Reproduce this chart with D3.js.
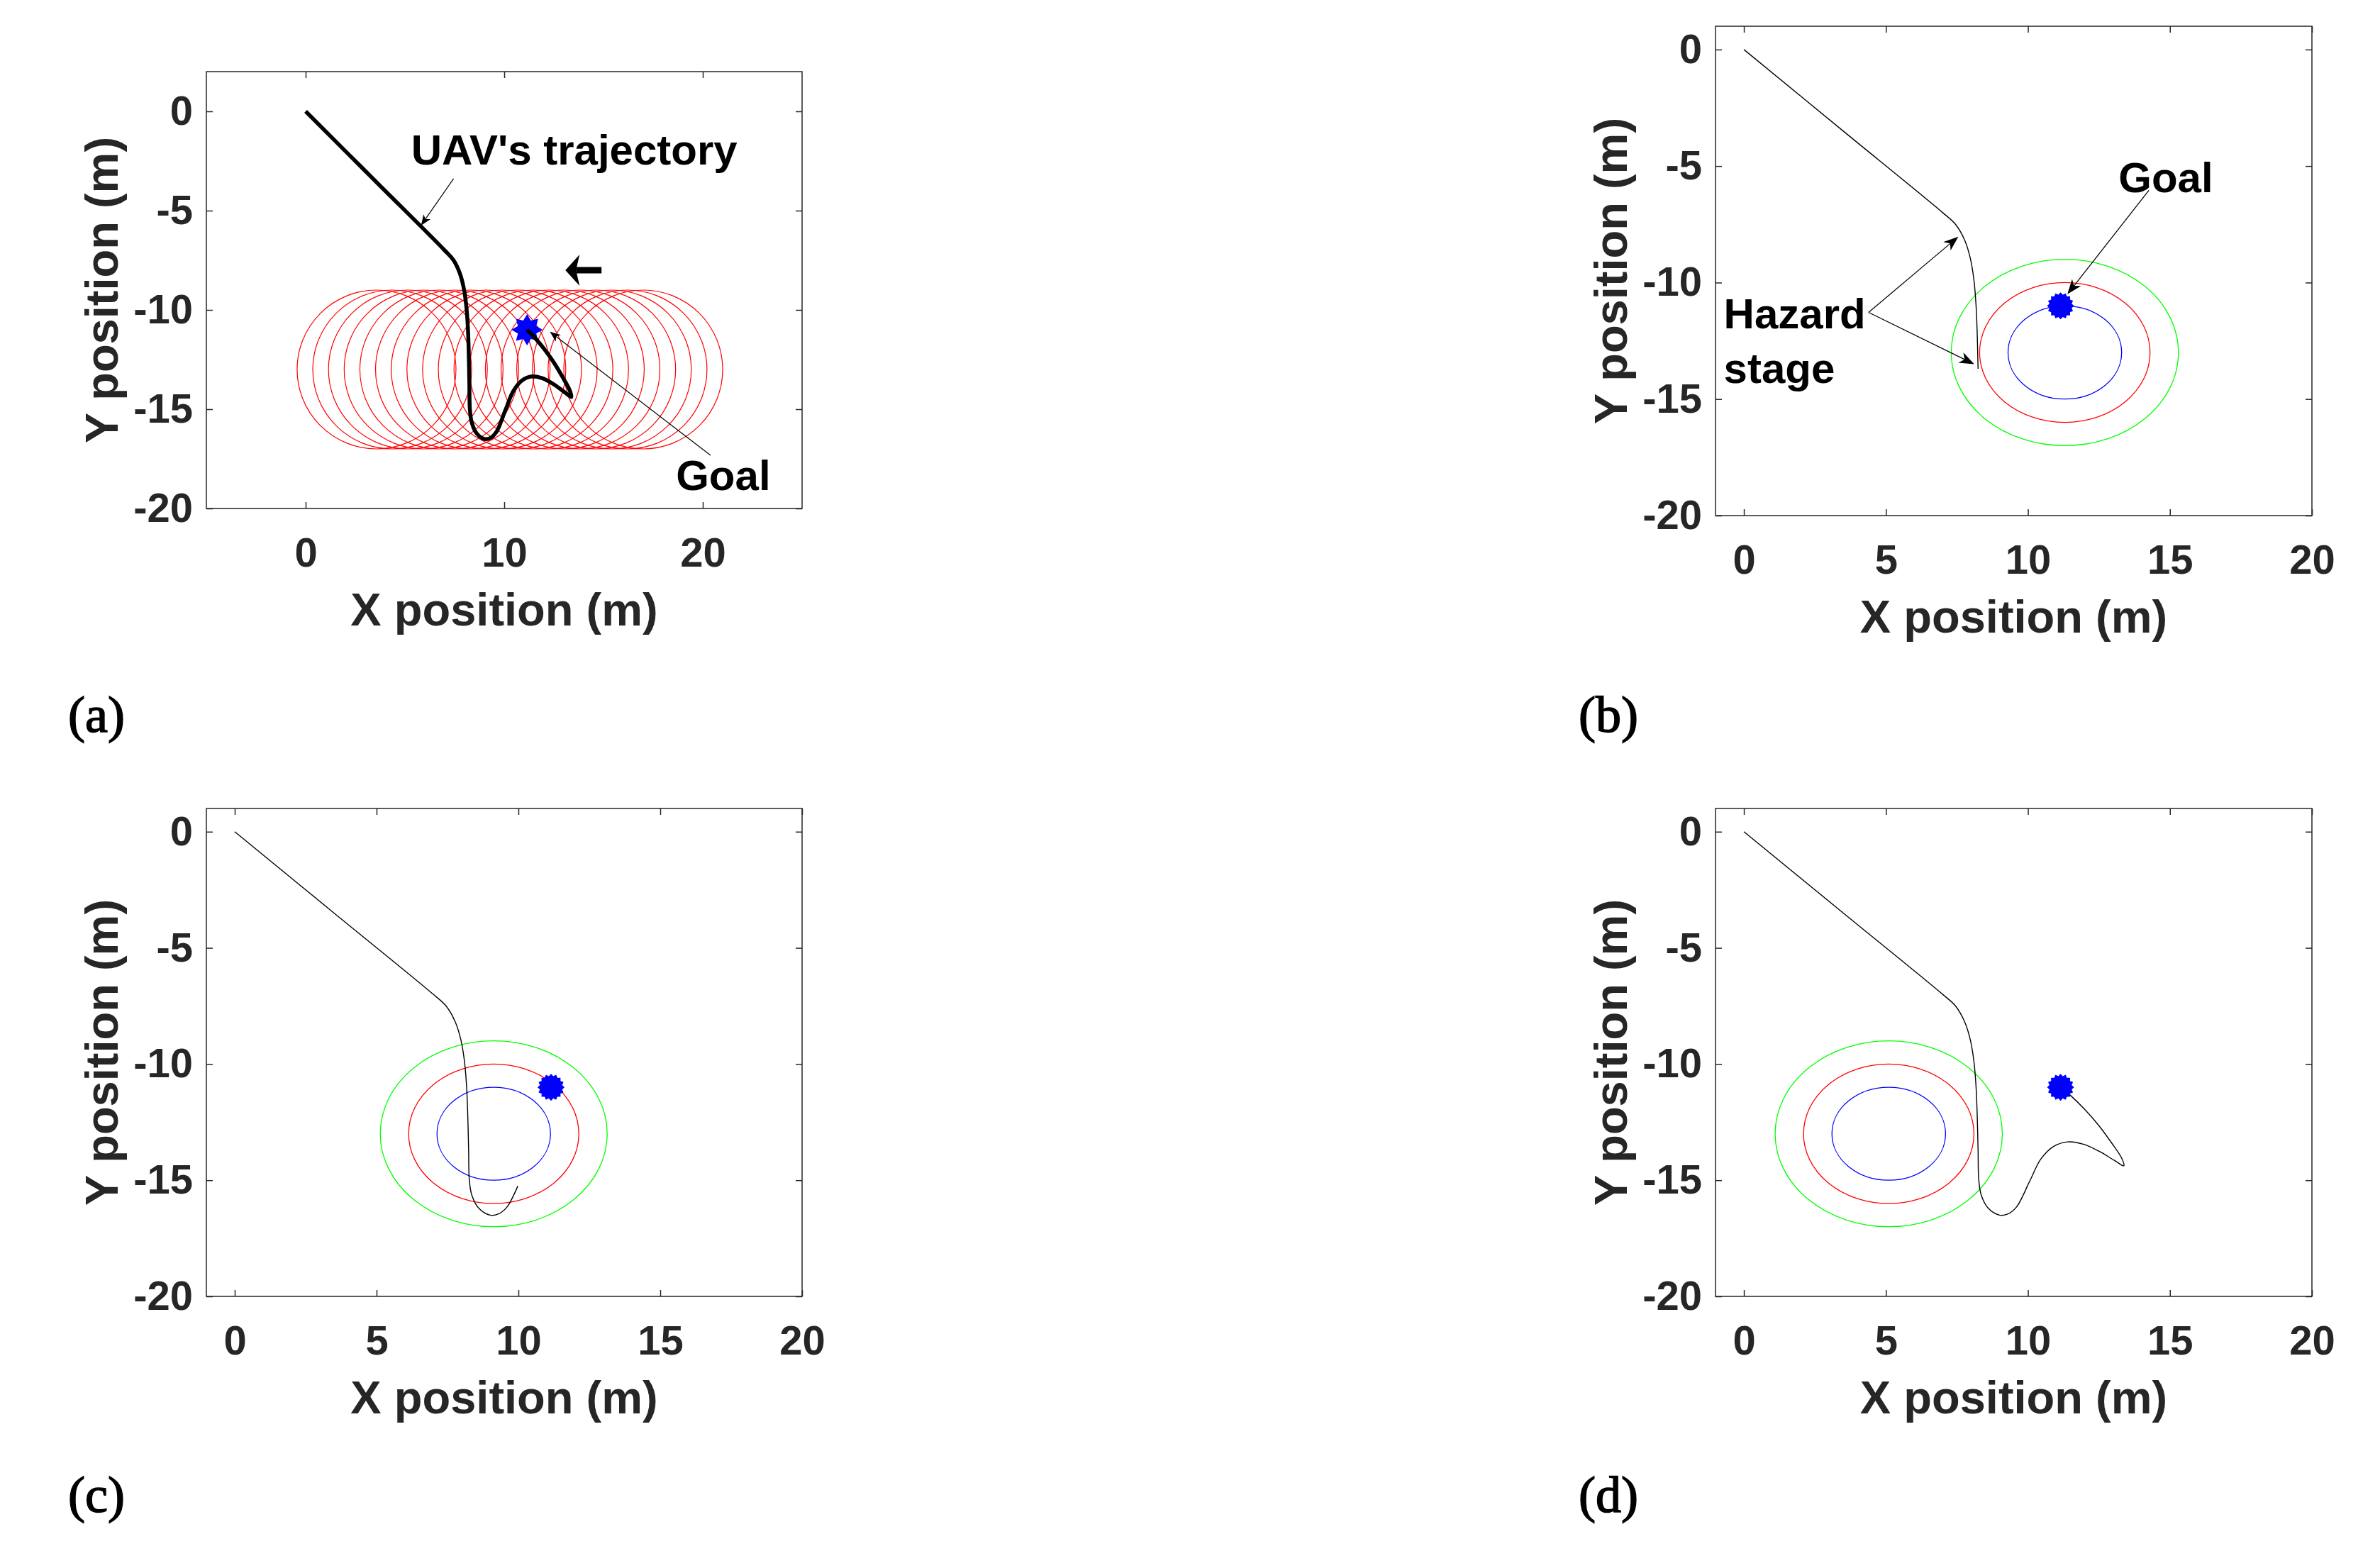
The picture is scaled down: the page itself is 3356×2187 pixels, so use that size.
<!DOCTYPE html>
<html>
<head>
<meta charset="utf-8">
<script src="https://cdn.jsdelivr.net/npm/d3@7"></script>
<style>
  body { margin: 0; background: #fff; }
  svg text { font-family: "Liberation Sans", Arial, sans-serif; font-weight: bold; }
  svg text.sub { font-family: "Liberation Serif", "Times New Roman", serif; font-weight: normal; }
</style>
</head>
<body>
<svg id="fig"></svg>
<script>
// UAV trajectory (m) (a) and (d)
const trajX = [0, 3.5, 7.0, 7.45, 7.78, 7.98, 8.1, 8.17, 8.21, 8.245, 8.27, 8.36, 8.6, 9.0, 9.3, 9.6, 9.85, 9.98,
               10.1, 10.45, 10.9, 11.4, 11.95, 12.5, 13.05, 13.38, 13.3, 12.95, 12.5, 12.0, 11.5, 11.15];
const trajY = [0, -3.5, -7.0, -7.5, -8.2, -9.0, -9.9, -10.9, -12.0, -13.7, -15.0, -15.65, -16.2, -16.5, -16.45, -16.15, -15.6, -15.25,
               -14.95, -14.1, -13.55, -13.35, -13.45, -13.75, -14.15, -14.38, -14.05, -13.4, -12.65, -11.95, -11.35, -11.0];
// number of trajectory samples drawn in each panel
const shownSteps = { a: trajX.length, b: 10, c: 18, d: trajX.length };

const goal = [11.15, -11];
const obstacleY = -13;
// (a): successive obstacle positions while it moves left
const sweepX = [17.00, 16.21, 15.42, 14.63, 13.84, 13.05, 12.26, 11.47, 10.68, 9.89, 9.10, 8.31, 7.52, 6.73, 5.94, 5.15, 4.36, 3.57];
const sweepRadius = 4;
// (b)-(d): obstacle position in each snapshot
const frameX = { b: 11.3, c: 9.13, d: 5.1 };
const zoneRadii = [2, 3, 4];
const zoneColors = ['#0000ff', '#ff0000', '#00ff00'];

const xTicksA = [0, 10, 20];
const xTicks = [0, 5, 10, 15, 20];
const yTicks = [0, -5, -10, -15, -20];

const W = 3356, H = 2187;
const ink = '#262626';

const svg = d3.select('#fig').attr('width', W).attr('height', H);
svg.append('rect').attr('width', W).attr('height', H).attr('fill', '#fff');

const panels = [
  { id: 'a', box: [291, 1131, 101, 717], xd: [-5, 25], yd: [-20, 2], xt: xTicksA, sub: [96, 1032] },
  { id: 'b', box: [2419, 3260, 37, 727], xd: [-1, 20], yd: [-20, 1], xt: xTicks, sub: [2226, 1032] },
  { id: 'c', box: [291, 1131, 1140, 1828], xd: [-1, 20], yd: [-20, 1], xt: xTicks, sub: [96, 2132] },
  { id: 'd', box: [2419, 3260, 1140, 1828], xd: [-1, 20], yd: [-20, 1], xt: xTicks, sub: [2226, 2132] }
];

function starPath(n, rOut, rIn, rot) {
  const pts = d3.range(2 * n).map(i => {
    const a = rot + i * Math.PI / n;
    const r = i % 2 ? rIn : rOut;
    return [r * Math.cos(a), r * Math.sin(a)];
  });
  return 'M' + pts.map(p => p.join(',')).join('L') + 'Z';
}

function arrow(g, x1, y1, x2, y2, opt) {
  const dx = x2 - x1, dy = y2 - y1, L = Math.hypot(dx, dy);
  const ux = dx / L, uy = dy / L, nx = -uy, ny = ux;
  const bx = x2 - ux * opt.len, by = y2 - uy * opt.len;
  const kx = x2 - ux * (opt.len - opt.notch), ky = y2 - uy * (opt.len - opt.notch);
  g.append('line')
    .attr('x1', x1).attr('y1', y1).attr('x2', kx).attr('y2', ky)
    .attr('stroke', '#000').attr('stroke-width', opt.lw);
  g.append('path')
    .attr('d', `M${x2},${y2}L${bx + nx * opt.hw},${by + ny * opt.hw}L${kx},${ky}L${bx - nx * opt.hw},${by - ny * opt.hw}Z`)
    .attr('fill', '#000');
}

// plain hyphen for negatives, as in the figure
const fmt = d => String(d);

panels.forEach(p => {
  const [L, R, T, B] = p.box;
  const x = d3.scaleLinear().domain(p.xd).range([L, R]);
  const y = d3.scaleLinear().domain(p.yd).range([B, T]);
  const g = svg.append('g');

  g.append('clipPath').attr('id', 'clip-' + p.id)
    .append('rect').attr('x', L).attr('y', T).attr('width', R - L).attr('height', B - T);
  const plot = g.append('g').attr('clip-path', `url(#clip-${p.id})`);

  const line = d3.line().x(i => x(trajX[i])).y(i => y(trajY[i])).curve(d3.curveCatmullRom.alpha(0.5));
  const idx = d3.range(shownSteps[p.id]);

  if (p.id === 'a') {
    sweepX.forEach(cx => {
      plot.append('ellipse')
        .attr('cx', x(cx)).attr('cy', y(obstacleY))
        .attr('rx', x(cx + sweepRadius) - x(cx)).attr('ry', y(obstacleY) - y(obstacleY + sweepRadius))
        .attr('fill', 'none').attr('stroke', '#ff0000').attr('stroke-width', 1.2);
    });
    plot.append('path').attr('d', starPath(8, 22, 14, -Math.PI / 2))
      .attr('transform', `translate(${x(goal[0])},${y(goal[1])})`).attr('fill', '#0000ff');
    plot.append('path').datum(idx).attr('d', line)
      .attr('fill', 'none').attr('stroke', '#000').attr('stroke-width', 5.5).attr('stroke-linejoin', 'round');
  } else {
    const cx = frameX[p.id];
    zoneRadii.forEach((r, k) => {
      plot.append('ellipse')
        .attr('cx', x(cx)).attr('cy', y(obstacleY))
        .attr('rx', x(cx + r) - x(cx)).attr('ry', y(obstacleY) - y(obstacleY + r))
        .attr('fill', 'none').attr('stroke', zoneColors[k]).attr('stroke-width', 1.3);
    });
    plot.append('path').datum(idx).attr('d', line)
      .attr('fill', 'none').attr('stroke', '#000').attr('stroke-width', 1.4);
    plot.append('path').attr('d', starPath(16, 19, 16, 0))
      .attr('transform', `translate(${x(goal[0])},${y(goal[1])})`).attr('fill', '#0000ff');
  }

  // axes: ticks inside on all four sides
  const tickStyle = sel => {
    sel.select('.domain').remove();
    sel.selectAll('.tick line').attr('stroke', ink).attr('stroke-width', 1.5);
    sel.selectAll('.tick text').attr('fill', ink).attr('font-size', 58)
      .attr('font-family', '"Liberation Sans", Arial, sans-serif').attr('font-weight', 'bold');
  };
  g.append('g').attr('transform', `translate(0,${B})`)
    .call(d3.axisBottom(x).tickValues(p.xt).tickSize(-9).tickPadding(41).tickFormat(fmt))
    .call(tickStyle);
  g.append('g').attr('transform', `translate(0,${T})`)
    .call(d3.axisTop(x).tickValues(p.xt).tickSize(-9).tickFormat(''))
    .call(tickStyle);
  g.append('g').attr('transform', `translate(${L},0)`)
    .call(d3.axisLeft(y).tickValues(yTicks).tickSize(-9).tickPadding(19).tickFormat(fmt))
    .call(tickStyle);
  g.append('g').attr('transform', `translate(${R},0)`)
    .call(d3.axisRight(y).tickValues(yTicks).tickSize(-9).tickFormat(''))
    .call(tickStyle);
  g.append('rect').attr('x', L).attr('y', T).attr('width', R - L).attr('height', B - T)
    .attr('fill', 'none').attr('stroke', ink).attr('stroke-width', 1.5);

  g.append('text').attr('x', (L + R) / 2).attr('y', B + 165)
    .attr('text-anchor', 'middle').attr('font-size', 65).attr('fill', ink)
    .text('X position (m)');
  g.append('text').attr('transform', `translate(${L - 125},${(T + B) / 2}) rotate(-90)`)
    .attr('text-anchor', 'middle').attr('font-size', 65).attr('fill', ink)
    .text('Y position (m)');

  g.append('text').attr('class', 'sub').attr('x', p.sub[0]).attr('y', p.sub[1])
    .attr('font-size', 72).attr('fill', '#000').attr('stroke', '#000').attr('stroke-width', 1.6)
    .text(`(${p.id})`);

  // annotations
  const note = (tx, ty, s) => g.append('text').attr('x', x(tx)).attr('y', y(ty))
    .attr('font-size', 60).attr('fill', '#000').text(s);
  const small = { len: 15, hw: 6, notch: 4, lw: 1.2 };
  const big = { len: 21, hw: 8, notch: 6, lw: 1.3 };

  if (p.id === 'a') {
    note(5.31, -2.68, "UAV's trajectory");
    arrow(g, x(7.45), y(-3.39), x(5.81), y(-5.75), small);
    note(18.65, -19.07, 'Goal');
    arrow(g, x(20.39), y(-17.32), x(12.3), y(-11.1), small);
    arrow(g, x(14.9), y(-8), x(13.08), y(-8), { len: 20, hw: 22, notch: 5, lw: 9 });
  }
  if (p.id === 'b') {
    note(13.19, -6.13, 'Goal');
    arrow(g, x(14.26), y(-6.04), x(11.39), y(-10.5), big);
    note(-0.71, -11.95, 'Hazard');
    note(-0.71, -14.3, 'stage');
    arrow(g, x(4.39), y(-11.28), x(7.55), y(-8.03), big);
    arrow(g, x(4.39), y(-11.28), x(8.11), y(-13.5), big);
  }
});
</script>
</body>
</html>
